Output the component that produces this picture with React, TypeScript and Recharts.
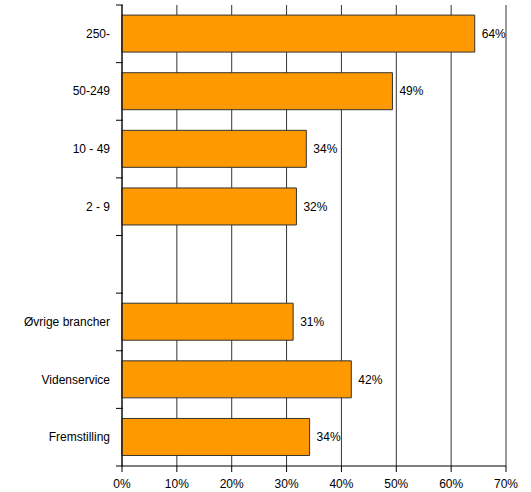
import { BarChart, Bar, XAxis, YAxis, CartesianGrid, LabelList } from 'recharts'

const categories = ['250-', '50-249', '10 - 49', '2 - 9', '', 'Øvrige brancher', 'Videnservice', 'Fremstilling']
const shares = [64.3, 49.3, 33.6, 31.8, null, 31.2, 41.8, 34.2]
const xTicks = [0, 10, 20, 30, 40, 50, 60, 70]

const data = categories.map((name, i) => ({ name, value: shares[i] }))

const font = '"Liberation Sans", Arial, sans-serif'

// category label plus a tick mark at the band boundary
function CategoryTick(props: any) {
  const { x, y, payload, index, visibleTicksCount } = props
  const half = payload.offset || 0
  const isLast = index === visibleTicksCount - 1
  return (
    <g>
      <line x1={x + 2} x2={x + 9} y1={y - half} y2={y - half} stroke="#000" />
      {isLast && <line x1={x + 2} x2={x + 9} y1={y + half} y2={y + half} stroke="#000" />}
      <text x={x - 4} y={y} dy={4} textAnchor="end" fontSize={12} fill="#000" fontFamily={font}>
        {payload.value}
      </text>
    </g>
  )
}

export default function App() {
  return (
    <div style={{ position: 'absolute', left: 0, top: 0, background: '#fff' }}>
      <BarChart
        width={531}
        height={492}
        data={data}
        layout="vertical"
        margin={{ top: 5, right: 25, bottom: 0, left: 0 }}
        barCategoryGap="17.5%"
      >
        <CartesianGrid horizontal={false} stroke="#333" />
        <XAxis
          type="number"
          domain={[0, 70]}
          ticks={xTicks}
          tickFormatter={(v) => `${v}%`}
          height={26}
          tickMargin={7}
          axisLine={{ stroke: '#000' }}
          tickLine={{ stroke: '#000' }}
          tick={{ fill: '#000', fontSize: 12, fontFamily: font }}
          interval={0}
        />
        <XAxis
          xAxisId="top"
          orientation="top"
          type="number"
          domain={[0, 70]}
          height={0}
          tick={false}
          tickLine={false}
          axisLine={{ stroke: '#000' }}
        />
        <YAxis
          type="category"
          dataKey="name"
          width={122}
          interval={0}
          axisLine={{ stroke: '#000' }}
          tickLine={false}
          tick={<CategoryTick />}
        />
        <Bar dataKey="value" fill="#FF9900" stroke="#333" strokeWidth={1} isAnimationActive={false}>
          <LabelList
            dataKey="value"
            position="right"
            offset={7}
            formatter={(v: any) => (v == null ? '' : `${Math.round(v)}%`)}
            style={{ fill: '#000', fontSize: 12, fontFamily: font }}
          />
        </Bar>
      </BarChart>
    </div>
  )
}
